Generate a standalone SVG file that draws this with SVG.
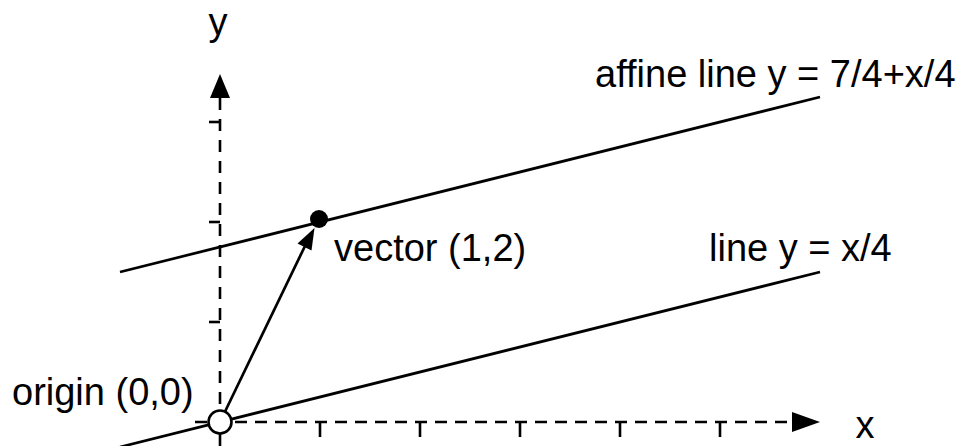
<svg xmlns="http://www.w3.org/2000/svg" width="960" height="446" viewBox="0 0 960 446">
<style>
text{font-family:"Liberation Sans",Arial,sans-serif;font-size:38px;fill:#000}
.ax{stroke:#000;stroke-width:2.6;fill:none}
.ln{stroke:#000;stroke-width:2.7;fill:none}
.tk{stroke:#000;stroke-width:2.6}
</style>
<rect width="960" height="446" fill="#fff"/>
<g id="connectors">
<line id="x-axis" class="ax" x1="195" y1="422" x2="794" y2="422" stroke-dasharray="12 8"/>
<line id="y-axis" class="ax" x1="220" y1="446" x2="220" y2="96" stroke-dasharray="12 9"/>
<polygon points="792,412 820,422 792,432" fill="#000"/>
<polygon points="210,98 220,74 230,98" fill="#000"/>
<g class="tk">
<line x1="320" y1="422" x2="320" y2="437"/>
<line x1="420" y1="422" x2="420" y2="437"/>
<line x1="520" y1="422" x2="520" y2="437"/>
<line x1="620" y1="422" x2="620" y2="437"/>
<line x1="720" y1="422" x2="720" y2="437"/>
<line x1="209" y1="122" x2="220" y2="122"/>
<line x1="209" y1="222" x2="220" y2="222"/>
<line x1="209" y1="322" x2="220" y2="322"/>
</g>
<line id="affine-line" class="ln" x1="120" y1="272" x2="820" y2="97"/>
<line id="line" class="ln" x1="120" y1="447" x2="820" y2="272"/>
<line id="vector" class="ln" x1="220" y1="422" x2="305" y2="246"/>
<polygon points="314.5,228 311.5,250.5 297.5,243.5" fill="#000"/>
</g>
<g id="origin">
<circle cx="220" cy="422" r="11.5" fill="#fff" stroke="#000" stroke-width="2.6"/>
<text x="12" y="405">origin (0,0)</text>
</g>
<g id="point">
<circle cx="319" cy="219" r="9" fill="#000"/>
<text x="334" y="261">vector (1,2)</text>
</g>
<g id="labels">
<text x="218" y="35" text-anchor="middle">y</text>
<text x="865" y="438" text-anchor="middle">x</text>
<text x="595" y="87">affine line y = 7/4+x/4</text>
<text x="709" y="261">line y = x/4</text>
</g>
</svg>
